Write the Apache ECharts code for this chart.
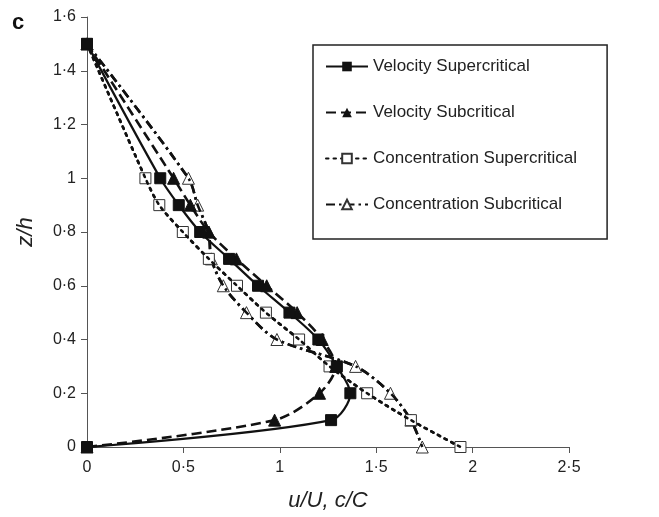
<!DOCTYPE html>
<html><head><meta charset="utf-8">
<script src="https://cdn.jsdelivr.net/npm/echarts@6/dist/echarts.min.js"></script>
<style>html,body{margin:0;padding:0;background:#fff}#c{width:659px;height:517px}</style>
</head><body><div id="c"></div>
<script>
// z/h levels (shared by all profiles)
var zLevels = [1.5, 1.0, 0.9, 0.8, 0.7, 0.6, 0.5, 0.4, 0.3, 0.2, 0.1, 0];
// u/U or c/C values at each level
var velSuper = [0, 0.38, 0.476, 0.587, 0.737, 0.887, 1.05, 1.2, 1.296, 1.366, 1.266, 0];
var velSub   = [0, 0.449, 0.536, 0.632, 0.775, 0.932, 1.09, 1.22, 1.29, 1.206, 0.973, 0];
var concSuper= [0, 0.303, 0.375, 0.497, 0.632, 0.778, 0.928, 1.1, 1.258, 1.453, 1.68, 1.937];
var concSub  = [0, 0.526, 0.574, 0.63, 0.645, 0.707, 0.827, 0.985, 1.393, 1.574, 1.68, 1.739];
var seriesNames = ['Velocity Supercritical', 'Velocity Subcritical', 'Concentration Supercritical', 'Concentration Subcritical'];
var xTickLabels = ['0', '0·5', '1', '1·5', '2', '2·5'];
var yTickLabels = ['0', '0·2', '0·4', '0·6', '0·8', '1', '1·2', '1·4', '1·6'];

function pairs(xs) { return xs.map(function (v, i) { return [v, zLevels[i]]; }); }
var font = 'Liberation Sans, Arial, sans-serif';
var concSuperLine = {color: '#111', width: 2.6, type: [2.5, 5], cap: 'round'};
var concSubLine = {color: '#111', width: 2.6, type: [9, 4, 2.5, 4]};

var chart = echarts.init(document.getElementById('c'), null, {renderer: 'canvas'});
chart.setOption({
  animation: false,
  backgroundColor: '#fff',
  grid: {left: 87, right: 90, top: 17, bottom: 70},
  xAxis: {
    type: 'value', min: 0, max: 2.5, interval: 0.5,
    name: 'u/U, c/C', nameLocation: 'middle', nameGap: 43,
    nameTextStyle: {fontFamily: font, fontSize: 22, fontStyle: 'italic', color: '#222'},
    axisLine: {lineStyle: {color: '#555', width: 1}},
    axisTick: {show: true, inside: false, length: 6, lineStyle: {color: '#555'}},
    axisLabel: {fontFamily: font, fontSize: 16, color: '#222', margin: 13,
      formatter: function (v) { return xTickLabels[Math.round(v / 0.5)]; }},
    splitLine: {show: false}
  },
  yAxis: {
    type: 'value', min: 0, max: 1.6, interval: 0.2,
    name: 'z/h', nameLocation: 'middle', nameGap: 50, nameRotate: 90,
    nameTextStyle: {fontFamily: font, fontSize: 22, fontStyle: 'italic', color: '#222'},
    axisLine: {show: true, lineStyle: {color: '#555', width: 1}},
    axisTick: {show: true, inside: false, length: 6, lineStyle: {color: '#555'}},
    axisLabel: {fontFamily: font, fontSize: 16, color: '#222', margin: 11,
      formatter: function (v) { return yTickLabels[Math.round(v / 0.2)]; }},
    splitLine: {show: false}
  },
  legend: {
    orient: 'vertical', left: 313, top: 45,
    padding: [13, 30, 26, 12], itemGap: 29, itemWidth: 42, itemHeight: 12,
    borderColor: '#222', borderWidth: 1.5, backgroundColor: '#fff',
    textStyle: {fontFamily: font, fontSize: 17, color: '#222'},
    data: seriesNames
  },
  graphic: [{type: 'text', left: 12, top: 12, style: {text: 'c', font: 'bold 22px ' + font, fill: '#111'}}],
  series: [
    {name: seriesNames[0], type: 'line', smooth: 0.3, data: pairs(velSuper), z: 7,
     symbol: 'rect', symbolSize: 11,
     lineStyle: {color: '#111', width: 2.2, type: 'solid'},
     itemStyle: {color: '#111', borderColor: '#111'}},
    {name: seriesNames[1], type: 'line', smooth: 0.3, data: pairs(velSub), z: 6,
     symbol: 'triangle', symbolSize: 12,
     lineStyle: {color: '#111', width: 2.6, type: [10, 5]},
     itemStyle: {color: '#111', borderColor: '#111'}},
    {name: seriesNames[2], type: 'line', smooth: 0.3, data: pairs(concSuper), z: 4,
     symbol: 'rect', symbolSize: 11,
     lineStyle: concSuperLine,
     itemStyle: {color: '#fff', borderColor: '#333', borderWidth: 1}},
    {name: seriesNames[3], type: 'line', smooth: 0.3, data: pairs(concSub), z: 2,
     symbol: 'triangle', symbolSize: 12,
     lineStyle: concSubLine,
     itemStyle: {color: '#fff', borderColor: '#333', borderWidth: 1}},
    // the same concentration lines drawn again above their open markers
    {type: 'line', smooth: 0.3, data: pairs(concSuper), z: 5, showSymbol: false,
     silent: true, lineStyle: concSuperLine},
    {type: 'line', smooth: 0.3, data: pairs(concSub), z: 3, showSymbol: false,
     silent: true, lineStyle: concSubLine}
  ]
});
</script></body></html>
